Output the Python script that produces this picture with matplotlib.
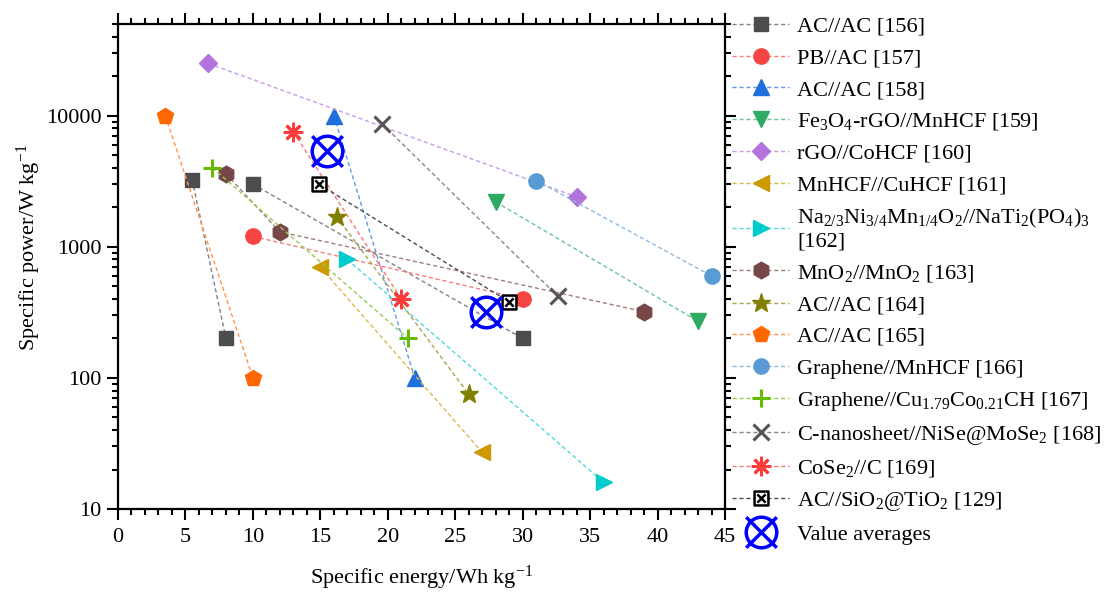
import numpy as np
import matplotlib
matplotlib.use('Agg')
import matplotlib.pyplot as plt
from matplotlib.path import Path
from matplotlib.colors import to_rgb
from matplotlib.ticker import MultipleLocator, LogLocator, FuncFormatter, NullFormatter

plt.rcParams['font.family'] = ['Liberation Serif', 'DejaVu Serif']
plt.rcParams['mathtext.fontset'] = 'custom'
plt.rcParams['mathtext.rm'] = 'Liberation Serif'
plt.rcParams['mathtext.it'] = 'Liberation Serif:italic'
plt.rcParams['mathtext.bf'] = 'Liberation Serif:bold'

nan = np.nan
# ---- data (specific energy Wh/kg, specific power W/kg) ----
labels = [
    'AC//AC [156]',
    'PB//AC [157]',
    'AC//AC [158]',
    'Fe$_3$O$_4$-rGO//MnHCF [159]',
    'rGO//CoHCF [160]',
    'MnHCF//CuHCF [161]',
    'Na$_{2/3}$Ni$_{3/4}$Mn$_{1/4}$O$_2$//NaTi$_2$(PO$_4$)$_3$\n[162]',
    'MnO$_2$//MnO$_2$ [163]',
    'AC//AC [164]',
    'AC//AC [165]',
    'Graphene//MnHCF [166]',
    'Graphene//Cu$_{1.79}$Co$_{0.21}$CH [167]',
    'C-nanosheet//NiSe@MoSe$_2$ [168]',
    'CoSe$_2$//C [169]',
    'AC//SiO$_2$@TiO$_2$ [129]',
    'Value averages',
]
e156 = [5.5, 8, nan, 10, 30];   p156 = [3250, 200, nan, 3000, 200]
e157 = [10, 30];                p157 = [1200, 400]
e158 = [16, 22];                p158 = [10000, 100]
e159 = [28, 43];                p159 = [2200, 270]
e160 = [6.7, 34];               p160 = [25000, 2400]
e161 = [15, 27];                p161 = [700, 27]
e162 = [17, 36];                p162 = [800, 16]
e163 = [8, 12, 39];             p163 = [3600, 1300, 320]
e164 = [16.2, 26];              p164 = [1700, 75]
e165 = [3.5, 10];               p165 = [10000, 100]
e166 = [31, 44];                p166 = [3200, 600]
e167 = [7, 21.5];               p167 = [4000, 200]
e168 = [19.6, 32.6];            p168 = [8600, 420]
e169 = [13, 21];                p169 = [7500, 400]
e129 = [14.9, 29];              p129 = [3000, 380]
e_avg = [15.5, 27.3];           p_avg = [5400, 320]

energies = [e156, e157, e158, e159, e160, e161, e162, e163, e164, e165,
            e166, e167, e168, e169, e129, e_avg]
powers = [p156, p157, p158, p159, p160, p161, p162, p163, p164, p165,
          p166, p167, p168, p169, p129, p_avg]

# ---- custom markers ----
circ = Path.unit_circle()
xlines = Path([(-1, -1), (1, 1), (-1, 1), (1, -1)],
              [Path.MOVETO, Path.LINETO, Path.MOVETO, Path.LINETO])
circle_x = Path.make_compound_path(circ, xlines)
sq = Path([(-1, -1), (1, -1), (1, 1), (-1, 1), (-1, -1)],
          [Path.MOVETO, Path.LINETO, Path.LINETO, Path.LINETO, Path.CLOSEPOLY])
xin = Path([(-0.6, -0.6), (0.6, 0.6), (-0.6, 0.6), (0.6, -0.6)],
           [Path.MOVETO, Path.LINETO, Path.MOVETO, Path.LINETO])
box_x = Path.make_compound_path(sq, xin)

styles = [
    dict(color='#4d4d4d', marker='s', ms=10),
    dict(color='#f64444', marker='o', ms=11),
    dict(color='#1f6fdc', marker='^', ms=12),
    dict(color='#2eaa62', marker='v', ms=12),
    dict(color='#b372dc', marker='D', ms=9),
    dict(color='#cc9900', marker='<', ms=12),
    dict(color='#00cccc', marker='>', ms=12),
    dict(color='#774747', marker='h', ms=12),
    dict(color='#808000', marker='*', ms=14),
    dict(color='#ff6600', marker='p', ms=12),
    dict(color='#5b9bd5', marker='o', ms=11),
    dict(color='#66bb00', marker='+', ms=13, mew=2.2),
    dict(color='#555555', marker='x', ms=12, mew=2.2),
    dict(color='#ff3b3b', marker=(8, 2, 0), ms=14, mew=2.0),
    dict(color='#000000', marker=box_x, ms=10, mew=1.8, mfc='white'),
    dict(color='#0000ff', marker=circle_x, ms=22, mew=2.5, mfc='none', ls='none'),
]

fig = plt.figure(figsize=(11.11, 5.92), dpi=100)
ax = fig.add_axes([118/1111, 1-509/592, (725-118)/1111, (509-24)/592])

for e, p, lab, st in zip(energies, powers, labels, styles):
    c = st['color']
    rgb = np.array(to_rgb(c))
    lc = tuple(rgb + (1 - rgb) * 0.3)
    ls = st.get('ls', (0, (3, 2)))
    ax.plot(e, p, linestyle=ls, lw=1.0, color=lc, marker=st['marker'],
            ms=st['ms'], mfc=st.get('mfc', c), mec=c, mew=st.get('mew', 1.0),
            label=lab, zorder=3)

ax.set_yscale('log')
ax.set_xlim(0, 45)
ax.set_ylim(10, 50000)
ax.xaxis.set_major_locator(MultipleLocator(5))
ax.xaxis.set_minor_locator(MultipleLocator(1))
ax.yaxis.set_major_locator(LogLocator(base=10, numticks=10))
ax.yaxis.set_minor_locator(LogLocator(base=10, subs=np.arange(2, 10), numticks=20))
ax.yaxis.set_major_formatter(FuncFormatter(lambda v, pos: '%d' % round(v)))
ax.yaxis.set_minor_formatter(NullFormatter())

for s in ax.spines.values():
    s.set_linewidth(1.6)
ax.tick_params(which='both', direction='out', top=True, right=True,
               labelsize=16, width=1.5)
ax.tick_params(which='major', length=8, pad=4)
ax.tick_params(axis='x', which='major', pad=6)
ax.tick_params(which='minor', length=4.5)

ax.set_xlabel('Specific energy/Wh kg$^{-1}$', fontsize=16, labelpad=12)
ax.set_ylabel('Specific power/W kg$^{-1}$', fontsize=16)
ax.yaxis.set_label_coords(-0.123, 0.54)

ax.legend(loc='upper left', bbox_to_anchor=(1.0, 1.03), frameon=False,
          fontsize=16, handlelength=2.6, handletextpad=0.35,
          labelspacing=0.50, borderaxespad=0.0, borderpad=0.3)

fig.savefig('out.png', dpi=100)
